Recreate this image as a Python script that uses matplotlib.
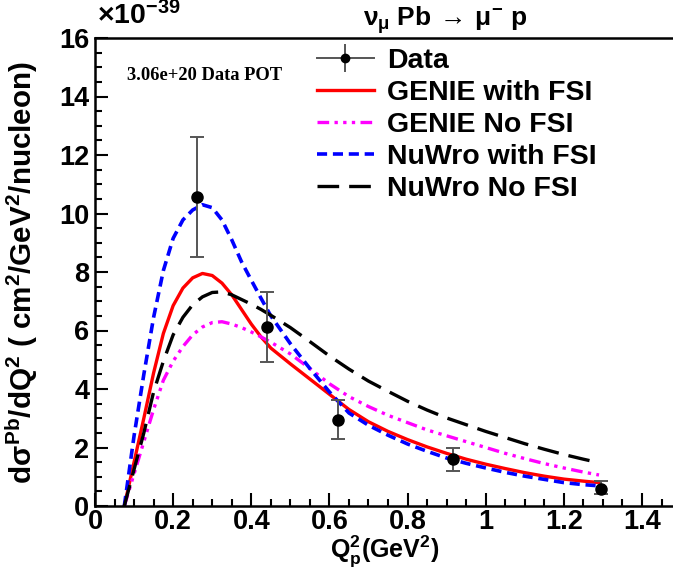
import numpy as np
import matplotlib
matplotlib.use("Agg")
import matplotlib.pyplot as plt
from matplotlib.ticker import MultipleLocator, FuncFormatter

plt.rcParams["font.family"] = ["Liberation Sans", "DejaVu Sans"]
plt.rcParams["font.weight"] = "bold"
plt.rcParams["axes.labelweight"] = "bold"
plt.rcParams["mathtext.fontset"] = "custom"
plt.rcParams["mathtext.rm"] = "Liberation Sans:bold"
plt.rcParams["mathtext.it"] = "Liberation Sans:bold"
plt.rcParams["mathtext.bf"] = "Liberation Sans:bold"
plt.rcParams["mathtext.sf"] = "Liberation Sans:bold"

# Measured cross section (units of 1e-39 cm^2/GeV^2/nucleon)
data_q2 = [0.262, 0.44, 0.623, 0.917, 1.295]
data_xs = [10.56, 6.12, 2.94, 1.60, 0.58]
data_err_lo = [2.05, 1.19, 0.65, 0.40, 0.18]
data_err_hi = [2.07, 1.19, 0.68, 0.39, 0.27]

# Model predictions sampled along Q^2_p
model_q2 = [0.075, 0.1, 0.125, 0.15, 0.175, 0.2, 0.225, 0.25, 0.275, 0.3,
            0.325, 0.35, 0.375, 0.4, 0.425, 0.45, 0.5, 0.55, 0.6, 0.65,
            0.7, 0.75, 0.8, 0.85, 0.9, 0.95, 1.0, 1.05, 1.1, 1.15,
            1.2, 1.25, 1.29]
genie_fsi = [0, 1.5, 3.0, 4.55, 5.9, 6.85, 7.45, 7.8, 7.95, 7.88,
             7.62, 7.22, 6.72, 6.22, 5.78, 5.4, 4.86, 4.34, 3.82, 3.3,
             2.88, 2.55, 2.27, 2.02, 1.8, 1.6, 1.43, 1.28, 1.14, 1.02,
             0.92, 0.85, 0.8]
genie_nofsi = [0, 1.1, 2.2, 3.3, 4.3, 4.95, 5.45, 5.85, 6.12, 6.27,
               6.3, 6.22, 6.1, 5.95, 5.78, 5.6, 5.2, 4.7, 4.18, 3.74,
               3.4, 3.1, 2.85, 2.6, 2.4, 2.2, 2.0, 1.8, 1.62, 1.45,
               1.3, 1.16, 1.06]
nuwro_fsi = [0, 2.4, 4.5, 6.45, 8.05, 9.15, 9.78, 10.12, 10.3, 10.2,
             9.78, 9.1, 8.35, 7.72, 7.1, 6.5, 5.55, 4.7, 3.9, 3.18,
             2.76, 2.42, 2.12, 1.87, 1.64, 1.46, 1.3, 1.15, 1.02, 0.91,
             0.8, 0.73, 0.69]
nuwro_nofsi = [0, 1.25, 2.5, 3.9, 4.95, 5.85, 6.45, 6.88, 7.15, 7.3,
               7.32, 7.22, 7.06, 6.9, 6.72, 6.52, 6.1, 5.62, 5.13, 4.68,
               4.27, 3.92, 3.58, 3.28, 3.01, 2.78, 2.55, 2.34, 2.13, 1.94,
               1.76, 1.6, 1.48]

W, H = 673, 571
fig = plt.figure(figsize=(W / 100, H / 100), dpi=100)
x0, y0, ytop = 95, 506, 38
px_per_unit = 390.7
ax_w_px = 1.5 * px_per_unit
ax_h_px = y0 - ytop
ax = fig.add_axes([x0 / W, (H - y0) / H, ax_w_px / W, ax_h_px / H])
ax.set_xlim(0, 1.5)
ax.set_ylim(0, 16)

ax.plot(model_q2, genie_fsi, color="#ff0000", lw=2.4, label="GENIE with FSI")
ax.plot(model_q2, genie_nofsi, color="#ff00ff", lw=2.4, label="GENIE No FSI",
        dashes=(3.5, 1.6, 1.0, 1.6, 1.0, 1.6, 1.0, 1.6))
ax.plot(model_q2, nuwro_fsi, color="#0000ff", lw=2.6, label="NuWro with FSI",
        dashes=(2.8, 1.6))
ax.plot(model_q2, nuwro_nofsi, color="black", lw=2.4, label="NuWro No FSI",
        dashes=(6.5, 3.0))

ax.errorbar(data_q2, data_xs, yerr=[data_err_lo, data_err_hi], fmt="o",
            color="#555555", ecolor="#555555", elinewidth=1.4, capsize=5,
            capthick=1.4, mfc="black", mec="black", ms=8, zorder=5)

# legend entry for data: horizontal line with marker and vertical bar
data_handle = ax.errorbar([np.nan], [np.nan], yerr=[0.3], fmt="-o",
                          color="#555555", ecolor="#555555", lw=1.4,
                          elinewidth=1.4, capsize=0, mfc="black",
                          mec="black", ms=6)
handles, labels = ax.get_legend_handles_labels()
line_handles = [h for h, l in zip(handles, labels) if l != "_nolegend_"][:4]
leg = ax.legend([data_handle] + line_handles,
                ["Data", "GENIE with FSI", "GENIE No FSI", "NuWro with FSI",
                 "NuWro No FSI"],
                loc="upper left", bbox_to_anchor=(317 / W, 1 - 48 / H),
                bbox_transform=fig.transFigure, frameon=False,
                fontsize=20.5, labelspacing=0.21, handlelength=2.0,
                handletextpad=0.45, borderpad=0, borderaxespad=0)

ax.spines["right"].set_visible(False)
for s in ("left", "bottom", "top"):
    ax.spines[s].set_linewidth(1.8)

ax.xaxis.set_major_locator(MultipleLocator(0.2))
ax.xaxis.set_minor_locator(MultipleLocator(0.05))
ax.yaxis.set_major_locator(MultipleLocator(2))
ax.yaxis.set_minor_locator(MultipleLocator(0.5))
ax.xaxis.set_major_formatter(FuncFormatter(lambda v, p: "%g" % round(v, 2)))
ax.yaxis.set_major_formatter(FuncFormatter(lambda v, p: "%g" % round(v, 2)))
ax.tick_params(which="both", direction="in", top=False, right=False,
               width=1.5, labelsize=19.5)
ax.tick_params(which="major", length=9.5, pad=4)
ax.tick_params(which="minor", length=5)
ax.tick_params(axis="x", pad=2)

ax.set_xlabel(r"Q$_{\rm p}^{2}$(GeV$^{2}$)", fontsize=18)
ax.xaxis.set_label_coords((385 - x0) / ax_w_px, -(533 - y0) / ax_h_px)
ax.set_ylabel(r"d$\sigma^{\rm Pb}$/dQ$^{2}$ ( cm$^{2}$/GeV$^{2}$/nucleon)",
              fontsize=21.3)
ax.yaxis.set_label_coords(-(x0 - 40) / ax_w_px, (y0 - 272) / ax_h_px)

fig.text(445 / W, 1 - 20 / H,
         r"$\nu_{\mu}$ Pb$\,\rightarrow\,\mu^{-}$ p",
         fontsize=19, ha="center", va="center")
fig.text(97 / W, 1 - 16 / H, r"$\times$10$^{-39}$", fontsize=20.5,
         ha="left", va="center")
fig.text(127 / W, 1 - 75 / H, "3.06e+20 Data POT", fontsize=13.3,
         family="Liberation Serif", weight="bold", ha="left", va="center")

fig.savefig("out.png", dpi=100)
